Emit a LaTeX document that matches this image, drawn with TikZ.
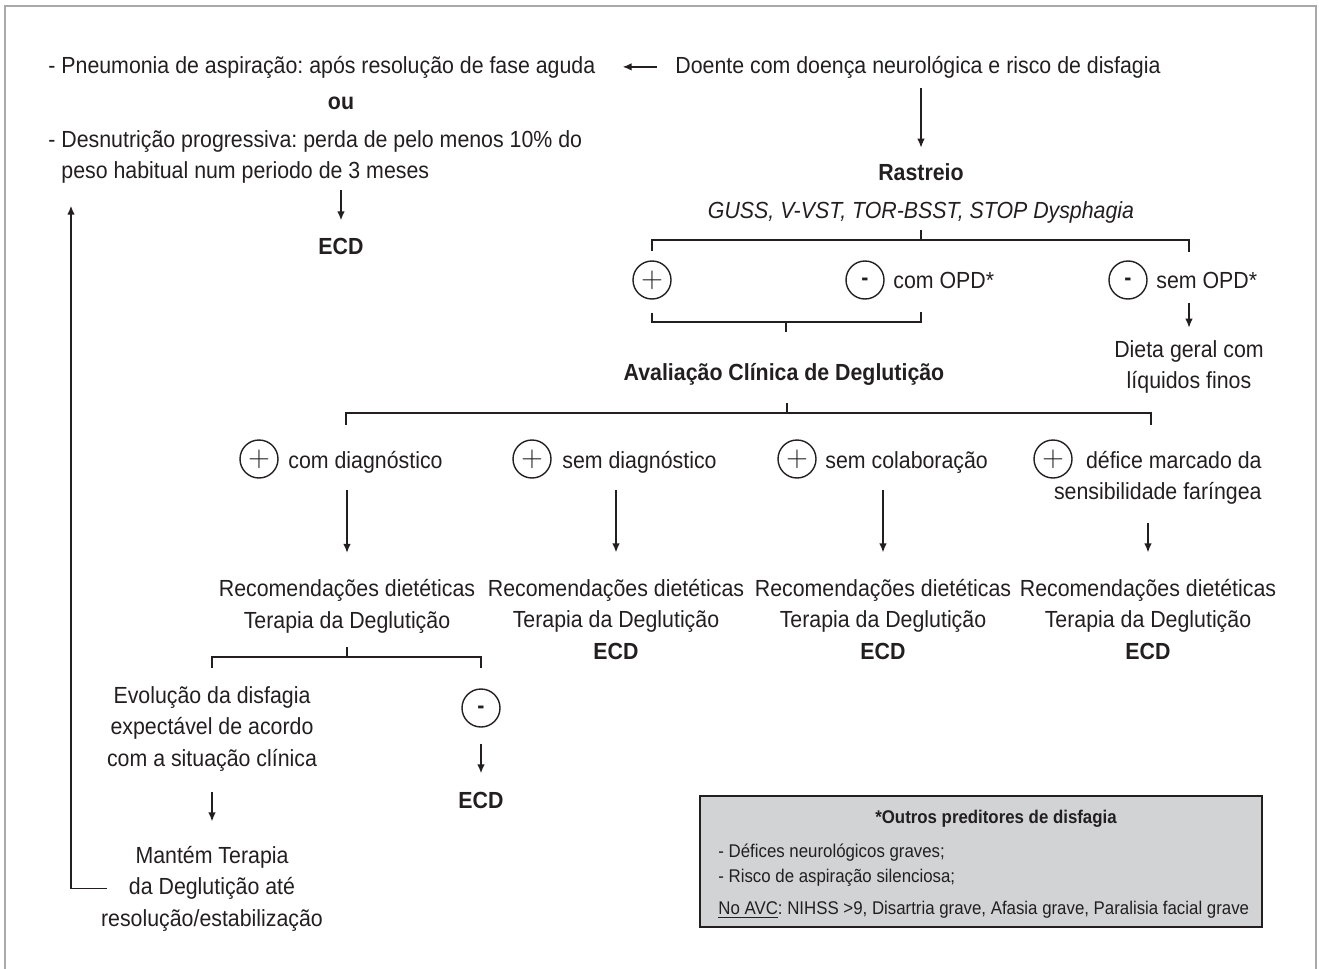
\documentclass[tikz,border=0pt]{standalone}
\usepackage{fontspec}
\setmainfont{Liberation Sans}[FakeStretch=0.915]
\usepackage{tikz}
\usetikzlibrary{arrows.meta, calc}

\definecolor{ink}{HTML}{231F20}
\definecolor{moldura}{HTML}{A7A9AC}
\definecolor{caixa}{HTML}{D1D3D4}

\newcommand{\fonte}{\fontsize{11.66pt}{15.75pt}\selectfont}
\newcommand{\fontep}{\fontsize{9.2pt}{12.5pt}\selectfont}

\tikzset{
  txt/.style={inner sep=0pt, text=ink, font=\fonte},
  negrito/.style={txt, font=\fonte\bfseries},
  sinal/.style={circle, draw=ink, line width=0.7pt, minimum size=19pt, inner sep=0pt, text=ink},
  mais/.style={sinal, font=\fontsize{15pt}{15pt}\selectfont},
  menos/.style={sinal, font=\fonte\bfseries, text height=0.54em, text depth=0pt},
  seta/.style={draw=ink, line width=0.75pt, -{Latex[length=4.5pt, width=3.8pt]}},
  chave/.style={draw=ink, line width=0.9pt},
}

\begin{document}
\frenchspacing
\begin{tikzpicture}[x=0.5pt, y=-0.5pt]
  \useasboundingbox (0,0) rectangle (1319,969);

  % moldura
  \draw[moldura, line width=1.2pt] (5,980) -- (5,6) -- (1316,6) -- (1316,980);

  % topo
  \node[txt, anchor=base west] (pneum) at (48,73) {- Pneumonia de aspiração: após resolução de fase aguda};
  \node[txt, anchor=base west] (doente) at (675,73) {Doente com doença neurológica e risco de disfagia};
  \draw[seta, shorten <=9pt, shorten >=13.5pt] (doente.west) -- (doente.west -| pneum.east);

  \node[negrito, anchor=base] (ou) at (341,109) {ou};
  \node[txt, anchor=base west, align=left] (desn) at (48,178.5)
    {- Desnutrição progressiva: perda de pelo menos 10\% do\\\phantom{- }peso habitual num periodo de 3 meses};
  \node[negrito, anchor=base] (ecd0) at (341,254) {ECD};
  \draw[seta, shorten <=3pt, shorten >=8.5pt] (desn.south -| ecd0.north) -- (ecd0.north);

  % rastreio
  \node[negrito, anchor=base] (rast) at (921,180) {Rastreio};
  \node[txt, anchor=base, font=\fonte\itshape] (guss) at (921,218) {GUSS, V-VST, TOR-BSST, STOP Dysphagia};
  \draw[seta, shorten <=5pt, shorten >=7.5pt] (doente.south -| rast.north) -- (rast.north);

  \node[mais] (p1) at (652,280) {$+$};
  \node[menos] (m1) at (865,280) {-};
  \node[txt, anchor=base west] (copd) at (893,288) {com OPD*};
  \node[menos] (m2) at (1128,280) {-};
  \node[txt, anchor=base west] (sopd) at (1156,288) {sem OPD*};

  \coordinate (j1) at (921,240);
  \coordinate (k1) at (1189,252);
  \draw[chave] ([yshift=-3.5pt]guss.south -| j1) -- (j1);
  \draw[chave] ([yshift=4.5pt]p1.north) |- (j1) -| (k1);

  % dieta geral
  \node[txt, anchor=base, align=center] (dieta) at (1189,388.5) {Dieta geral com\\líquidos finos};
  \draw[seta, shorten <=7pt, shorten >=6pt] (sopd.south -| dieta.north) -- (dieta.north);

  % avaliacao clinica
  \coordinate (j2) at (786,322);
  \coordinate (k2) at (921,312);
  \draw[chave] ([yshift=-6.5pt]p1.south) |- (j2) -| (k2);
  \draw[chave] (j2) -- ++(0,10);
  \node[negrito, anchor=base] (aval) at (784,380) {Avaliação Clínica de Deglutição};

  \coordinate (j3) at (787,413);
  \coordinate (k3a) at (346,425);
  \coordinate (k3b) at (1151,425);
  \draw[chave] ([yshift=-9pt]aval.south -| j3) -- (j3);
  \draw[chave] (k3a) |- (j3) -| (k3b);

  \node[mais] (cd) at (259,459) {$+$};
  \node[txt, anchor=base west] (cdt) at (288,468) {com diagnóstico};
  \node[mais] (sd) at (532,459) {$+$};
  \node[txt, anchor=base west] (sdt) at (562,468) {sem diagnóstico};
  \node[mais] (sc) at (797,459) {$+$};
  \node[txt, anchor=base west] (sct) at (825,468) {sem colaboração};
  \node[mais] (df) at (1053,459) {$+$};
  \node[txt, anchor=base east, align=right] (dft) at (1262,499.5) {défice marcado da\\sensibilidade faríngea};

  % recomendacoes
  \node[txt, anchor=base, align=center] (rec1) at (347,628) {Recomendações dietéticas\\Terapia da Deglutição};
  \node[txt, anchor=base, align=center] (rec2) at (616,659) {Recomendações dietéticas\\Terapia da Deglutição\\\textbf{ECD}};
  \node[txt, anchor=base, align=center] (rec3) at (883,659) {Recomendações dietéticas\\Terapia da Deglutição\\\textbf{ECD}};
  \node[txt, anchor=base, align=center] (rec4) at (1148,659) {Recomendações dietéticas\\Terapia da Deglutição\\\textbf{ECD}};

  \draw[seta, shorten <=8.5pt, shorten >=13pt] (cdt.south -| rec1.north) -- (rec1.north);
  \draw[seta, shorten <=8.5pt, shorten >=13pt] (sdt.south -| rec2.north) -- (rec2.north);
  \draw[seta, shorten <=8.5pt, shorten >=13pt] (sct.south -| rec3.north) -- (rec3.north);
  \draw[seta, shorten <=9pt, shorten >=13pt] (dft.south -| rec4.north) -- (rec4.north);

  % com diagnostico: evolucao
  \coordinate (j4) at (347,657);
  \coordinate (k4a) at (212,668);
  \coordinate (k4b) at (481,668);
  \draw[chave] ([yshift=-7pt]rec1.south -| j4) -- (j4);
  \draw[chave] (k4a) |- (j4) -| (k4b);

  \node[txt, anchor=base, align=center] (evol) at (212,766) {Evolução da disfagia\\expectável de acordo\\com a situação clínica};
  \node[menos] (m3) at (481,708) {-};
  \node[negrito, anchor=base] (ecd1) at (481,808) {ECD};
  \draw[seta, shorten <=8pt, shorten >=9pt] (m3) -- (ecd1);

  \node[txt, anchor=base, align=center] (mant) at (212,926) {Mantém Terapia\\da Deglutição até\\resolução/estabilização};
  \draw[seta, shorten <=10.5pt, shorten >=12pt] (evol) -- (mant);

  % volta ao topo
  \draw[seta] ([xshift=3pt]mant.west) -| ([xshift=11.5pt, yshift=-11pt]desn.south west);

  % legenda
  \node[draw=ink, fill=caixa, line width=0.8pt, minimum width=281pt, minimum height=65.5pt, inner sep=0pt] (leg) at (981,861.5) {};
  \node[txt, font=\fontep\bfseries, anchor=base] (legt) at (996,823) {*Outros preditores de disfagia};
  \node[txt, font=\fontep, anchor=base west] (leg1) at (718,857) {- Défices neurológicos graves;};
  \node[txt, font=\fontep, anchor=base west] (leg2) at (718,882) {- Risco de aspiração silenciosa;};
  \node[txt, font=\fontep, anchor=base west] (leg3) at (718,914) {\underline{No AVC}: NIHSS >9, Disartria grave, Afasia grave, Paralisia facial grave};
\end{tikzpicture}
\end{document}
